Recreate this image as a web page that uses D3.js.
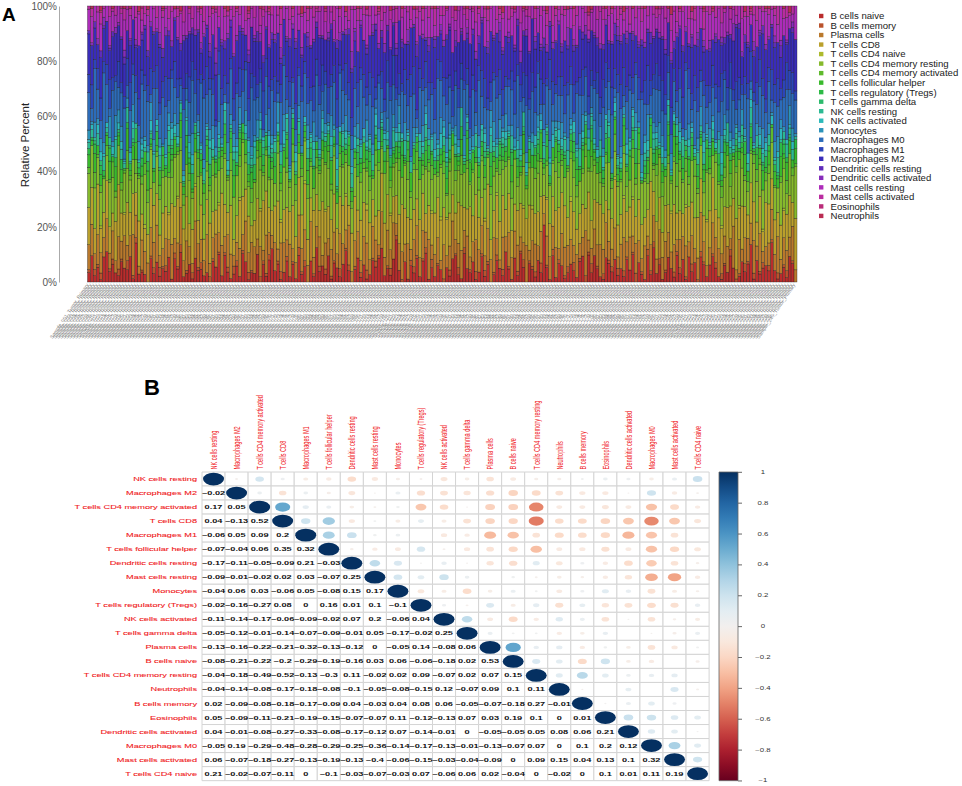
<!DOCTYPE html>
<html lang="en">
<head>
<meta charset="utf-8">
<title>Immune cell fractions and correlation matrix</title>
<script src="https://cdnjs.cloudflare.com/ajax/libs/d3/7.8.5/d3.min.js"></script>
<style>
  body { margin: 0; background: #fff; }
  svg { font-family: "Liberation Sans", Arial, sans-serif; }
</style>
</head>
<body>
<svg id="fig" width="962" height="786"></svg>
<script>
// ---------- panel A data: cell types (legend order) ----------
var cellTypes = ["B cells naive", "B cells memory", "Plasma cells", "T cells CD8", "T cells CD4 naive",
  "T cells CD4 memory resting", "T cells CD4 memory activated", "T cells follicular helper",
  "T cells regulatory (Tregs)", "T cells gamma delta", "NK cells resting", "NK cells activated",
  "Monocytes", "Macrophages M0", "Macrophages M1", "Macrophages M2", "Dendritic cells resting",
  "Dendritic cells activated", "Mast cells resting", "Mast cells activated", "Eosinophils", "Neutrophils"];

// per-sample percent estimates, one base-36 digit per sample (0-9, a=10 ... z=35), groups of 10
var bCellsNaive    = "3a2519c473 2864b1e352 0937264a18 5c23719462 3085d2a413 6297143b05 28f4613927 1a35082d46 3918527c40 4a2613859e 2537i40816 3829b15274 0628d31a53 7149260385 2c5183a607 4293p61825 6138427b09 3a52196483 5294c07318 2h36149527 381a470962 6952183c40 2847e19356 4d51362870";
var bCellsMemory   = "1021300120 2103012010 0120312002 1301020130 0210101203 2010310021 1200130201 0312001020 2011030120 1020301210 0130201002 2101203010 1020130201 0301210120 2010021301 1203010201 0120301021 3010201203 0210130102 1302010021 2010301210 0120210301 1031020120 2102013010";
var plasmaCells    = "8c5a97d6b4 a7e59c83f6 6b9d48a7c5 9f6a73e8b5 c58b9a6d74 7a5e8c96b3 d86a4b97c5 5c9a7f68b4 a69c5d87e3 8b5a96c74f 6d8b59a7c4 9a7c6e58b3 b58d7a96c4 7c9a5b8e63 a6d89c57b4 8b6a5c97d3 c97b6a58e4 5a8c9d67b5 9c6b7a85d4 7d5a8c96b3 a8c6b59e74 6b9a7d85c3 c5a98b6e47 8a7c5b96d4";
var tCellsCD8      = "ce8hb9fa7d gb9eac8hd6 9fdb7gcaeb hacf9bd8g7 bfa8dhc9e6 ahcbf79gde f9bdg8aech 8edfb9hcak cbag9efd7b e9hcbfa8dg bdf8cahe9b a9eg7cbfhd cfb9dhe8ag 9hdacf7bge dbfa9gce8h aceb8fd9gb fd9hcbae7g 9bgfd8ache becag9fdb8 hcdb9faeg7 a8fedbhc9g dgab9ecf8h bhc9fdae7g eaf8cbgd9h";
var tCD4Naive      = "0000100000 0010000001 0000000100 1000001000 0000100000 0100000010 0000010000 0001000000 1000000100 0000200000 0010000000 0000001001 0100000000 0000100010 0000000100 1000010000 0002000000 0000000010 0100100000 0000000100 0010000001 0000100000 1000000010 0000010000";
var tCD4MemRest    = "bgd9fcahe8 c9hbea7gfd af8dcgbe9h gd9bhacfe8 9cebf8hdag fbh9cadge7 cae8gbdf9h b9fdhc8aeg hdag9bfce7 9egcbd8hfa gcb9efahd8 daf8hcbe9g b9ehgdacf7 fcbda9ge8h 8hdcfbag9e cegb9dfah8 a9fhcebdg7 gdb8aefc9h cfa9hbdge8 9bgedcfah7 ebd9gfac8h d8hcaeg9bf gfa9bdhce8 bce8fg9dah";
var tCD4MemAct     = "2051304162 0316205143 4102530261 1540320617 3261042150 0413260351 2150430627 5031620413 1624051302 3042160531 0531240162 2604135021 4130526031 1052403615 3216041502 0451320164 2013650241 5204130362 1360425013 0241503126 4153062041 2031450612 0624135203 3510246031";
var tFollicular    = "4263514728 3517246153 6142573825 2736415263 5314627148 4625371452 1736245816 3452617324 6281435273 2547361452 4163528147 5372614253 3614725386 6253417242 1476352815 4538261473 2615374826 5346218153 3728456124 6152437285 2437615348 4516273615 3284516472 5163728435";
var tRegs          = "2130421503 1402315240 3215041321 0314252130 2501314026 1230425013 4125031204 0312541320 2403152031 1520342105 3041225130 0213451302 2530124031 1402315204 3215042130 0341253012 2103451240 4120350213 1302452031 2510314052 0421305123 3104251302 1250413024 2031542103";
var tGammaDelta    = "0010200100 1000010200 0200100010 0010003001 1000200010 0100010002 0020100100 1000020010 0010100200 0300010001 0001020100 1000100020 0200010100 0010200001 1001000200 0020010010 0100300100 1000020001 0010100020 0200001010 1000200100 0010010002 0300100010 0001020100";
var nkResting      = "2314052316 0425132041 3152403621 1405231524 2631405213 4102536142 1324051632 3501426013 2143605214 0352146302 4215031624 1063524130 3241506132 0524316241 2315042613 4130625031 1452036214 3206154023 2143560132 0531246103 3624015241 1305426312 2413605132 4025136241";
var nkActivated    = "1203412031 2310420132 0412301243 3021430120 1340213402 2103512031 0421304210 3102413025 1230421302 4013210431 2301432010 0132401325 3210430121 1042303210 2310142031 0423102413 3102410320 1230421031 2041310243 0321402130 4103221041 1320430312 2014310423 0312402130";
var monocytes      = "3152640827 4613250731 2740316524 5126370413 1453620735 3605142730 6241735012 2530617243 4172503615 3620714253 1534260712 5207341625 2641530714 4350216827 1724365031 3052617432 6143025713 2715304621 4360152738 1527430612 3046215734 5213670421 2630415372 4175320651";
var macrophagesM0  = "c5ha8pf3kb 7dm4g9b6rc e3ib8lc5f9 a6n4dhb2sk 9fc7mb3gd5 h4ae7pc9b2 d8kc3gf6ma 5bhe9c4nd7 f3ai6kd8b4 c7pb5ge3ha 6dl9c4fb8m b3hf7ae5qc 8ec4kd9gb3 g5ma7c3hf9 4bfd8oc6ea d9h3bgk5c7 a6ef3md8b5 7ck5fa9h3r e4bg6d8lc3 5hdb9fa7c4 c3ne5gb9d6 9af7ch4kb5 b6dl3e8fc9 f4ha7cm5db";
var macrophagesM1  = "6937a48b52 8459c36a74 5a6847b939 7385a69c46 9462b57838 4a7396855b 6859473a92 8364b5967a 5947a38c65 7a5869b437 4869573a98 9375a64b86 6b4978536a 5869a47389 8437b56a94 6a5893c745 7948a56b36 5386a94b78 9a6574839c 4795b86a53 7b3869a458 6859a47c39 8476b39a65 5a8947c683";
var macrophagesM2  = "dfa8ichbge bhe9gdakfc 9gdcjbfh8e fbich9dgae c8hfbeai9g gdb9fkcha8 aeicg8bfdj heb9dfgcia cgfai9ebhd 8dhcbfgjae fbg9eidach dich8bgfa9 agfdcj9ebh ec9hbfidga bgedai8fch hfc9gbdaie 9ebhcfgdai dgaibe8hcf fcheg9bida aibdfhcg8e egc9ibhfad c9fhadgbei hbdeacf9gi aegcbi8dfh";
var dcResting      = "1020310120 0130201031 2010140201 0301020120 1204013020 0210301402 1031020130 2010410201 0120301021 3010201203 0201302010 1400120301 0210301020 2031020104 1020130201 0301402010 2010210301 0130201042 1020301201 3010120130 0201403020 1020130201 2031020130 0120401020";
var dcActivated    = "0102030102 1030102010 0201403020 1020102031 0305010201 2010201030 0102040102 1030201010 0201030205 1020103020 3010201040 0102030102 2010501020 0301020103 1020104020 0201030201 1060201030 0102020104 2030101020 0102040301 1020103020 3010201050 0201030102 1030201020";
var mastResting    = "7a59c36b84 59d7a48c63 b6849e75a3 8c5a7396d4 6a8c5b973e 9475d86a3b 5b8a694c73 a6c75e849b 7948b6a53c 6d59a873b4 a7c4958e63 5896b7a4c3 8a6c5d793b 6b94a78c53 9c57b6a84d 47a9c865b3 b8695d7a43 6a7c948b53 8593a6c7d4 7b46a958c3 5c8a69b74e 9a6b5c8743 6d7a49b85c 8596c7a43b";
var mastActivated  = "1302510413 0251304162 2014031520 3160240135 0421503214 1305214062 2140360153 0312504120 4026130251 1503240316 2041603125 0325140613 3104520241 1620341052 2053106124 0413250631 3201640125 1052403216 2316041503 0432150624 1205340162 3041620513 0524136021 2136045130";
var eosinophils    = "0000100000 0100000010 0000010000 1000000100 0001000000 0000100001 0100000000 0000010100 1000000000 0010000010 0000100000 0100001000 0000000100 1000100000 0001000010 0000010000 0100000001 0000100000 1000000100 0001000000 0000010010 0100000000 0000100100 0010000000";
var neutrophils    = "0100200010 0010100200 1000010001 0200100010 0010001200 1000200010 0100010001 0030100000 1000010200 0100100010 0020001000 1001000100 0100200010 0010010001 2000100100 0100020010 0010100002 1000010100 0200100010 0010001300 1000200010 0100010100 0020100001 1000010200";

var seriesStrings = [bCellsNaive, bCellsMemory, plasmaCells, tCellsCD8, tCD4Naive, tCD4MemRest, tCD4MemAct,
  tFollicular, tRegs, tGammaDelta, nkResting, nkActivated, monocytes, macrophagesM0, macrophagesM1,
  macrophagesM2, dcResting, dcActivated, mastResting, mastActivated, eosinophils, neutrophils];

var percentTicks = [0, 0.2, 0.4, 0.6, 0.8, 1];

// ---------- panel B data ----------
var corrOrder = ["NK cells resting", "Macrophages M2", "T cells CD4 memory activated", "T cells CD8",
  "Macrophages M1", "T cells follicular helper", "Dendritic cells resting", "Mast cells resting", "Monocytes",
  "T cells regulatory (Tregs)", "NK cells activated", "T cells gamma delta", "Plasma cells", "B cells naive",
  "T cells CD4 memory resting", "Neutrophils", "B cells memory", "Eosinophils", "Dendritic cells activated",
  "Macrophages M0", "Mast cells activated", "T cells CD4 naive"];

// lower triangle, row by row (diagonal included)
var corrLower = [
  [1],
  [-0.02, 1],
  [0.17, 0.05, 1],
  [0.04, -0.13, 0.52, 1],
  [-0.06, 0.05, 0.09, 0.2, 1],
  [-0.07, -0.04, 0.06, 0.35, 0.32, 1],
  [-0.17, -0.11, -0.05, -0.09, 0.21, -0.03, 1],
  [-0.09, -0.01, -0.02, 0.02, 0.03, -0.07, 0.25, 1],
  [-0.04, 0.06, 0.03, -0.06, 0.05, -0.08, 0.15, 0.17, 1],
  [-0.02, -0.16, -0.27, 0.08, 0, 0.16, 0.01, 0.1, -0.1, 1],
  [-0.11, -0.14, -0.17, -0.06, -0.09, -0.02, 0.07, 0.2, -0.06, 0.04, 1],
  [-0.05, -0.12, -0.01, -0.14, -0.07, -0.09, -0.01, 0.05, -0.17, -0.02, 0.25, 1],
  [-0.13, -0.16, -0.22, -0.21, -0.32, -0.13, -0.12, 0, -0.05, 0.14, -0.08, 0.06, 1],
  [-0.08, -0.21, -0.22, -0.2, -0.29, -0.19, -0.16, 0.03, 0.06, -0.06, -0.18, 0.02, 0.53, 1],
  [-0.04, -0.18, -0.49, -0.52, -0.13, -0.3, 0.11, -0.02, 0.02, 0.09, -0.07, 0.02, 0.07, 0.15, 1],
  [-0.04, -0.14, -0.08, -0.17, -0.18, -0.08, -0.1, -0.05, -0.08, -0.15, 0.12, -0.07, 0.09, 0.1, 0.11, 1],
  [0.02, -0.09, -0.08, -0.18, -0.17, -0.09, 0.04, -0.03, 0.04, 0.08, 0.06, -0.05, -0.07, -0.18, 0.27, -0.01, 1],
  [0.05, -0.09, -0.11, -0.21, -0.19, -0.15, -0.07, -0.07, 0.11, -0.12, -0.13, 0.07, 0.03, 0.19, 0.1, 0, 0.01, 1],
  [0.04, -0.01, -0.08, -0.27, -0.33, -0.08, -0.17, -0.12, 0.07, -0.14, -0.01, 0, -0.05, -0.05, 0.05, 0.08, 0.06, 0.21, 1],
  [-0.05, 0.19, -0.29, -0.48, -0.28, -0.29, -0.25, -0.36, -0.14, -0.17, -0.13, -0.01, -0.13, -0.07, 0.07, 0, 0.1, 0.2, 0.12, 1],
  [0.06, -0.07, -0.18, -0.27, -0.13, -0.19, -0.13, -0.4, -0.06, -0.15, -0.03, -0.04, -0.09, 0, 0.09, 0.15, 0.04, 0.13, 0.1, 0.32, 1],
  [0.21, -0.02, -0.07, -0.11, 0, -0.1, -0.03, -0.07, -0.03, 0.07, -0.06, 0.06, 0.02, -0.04, 0, -0.02, 0, 0.1, 0.01, 0.11, 0.19, 1]
];

var colorbarTicks = [1, 0.8, 0.6, 0.4, 0.2, 0, -0.2, -0.4, -0.6, -0.8, -1];

// =====================================================
var svg = d3.select("#fig");

// ---------- Panel A: stacked fractions ----------
var seriesValues = seriesStrings.map(function(s) {
  return s.replace(/\s/g, "").split("").map(function(ch) { return parseInt(ch, 36); });
});
var nSamples = d3.max(seriesValues, function(v) { return v.length; });
var samples = d3.range(nSamples).map(function(i) {
  return "Sample_" + d3.format("03d")(i + 1) + "_Tumor_Primary";
});
var table = samples.map(function(s, i) {
  var row = {sample: s};
  cellTypes.forEach(function(c, k) { row[c] = seriesValues[k][i] || 0; });
  return row;
});

var layers = d3.stack().keys(cellTypes).offset(d3.stackOffsetExpand)(table);

var xA = d3.scaleBand().domain(samples).range([87.5, 797]).padding(0);
var yA = d3.scaleLinear().domain([0, 1]).range([282, 6]);
var colorA = d3.scaleOrdinal()
  .domain(cellTypes)
  .range(cellTypes.map(function(c, i) { return d3.hsl(i * 360 / 22, 0.62, 0.45).formatHex(); }));

var gA = svg.append("g").attr("class", "panelA");

gA.append("g").attr("class", "bars")
  .selectAll("g").data(layers).enter()
  .append("g").attr("fill", function(d) { return colorA(d.key); })
  .selectAll("rect").data(function(d) { return d; }).enter()
  .append("rect")
  .attr("x", function(d) { return xA(d.data.sample); })
  .attr("width", xA.bandwidth())
  .attr("y", function(d) { return yA(d[1]); })
  .attr("height", function(d) { return yA(d[0]) - yA(d[1]); })
  .attr("stroke", "#1c1c1c")
  .attr("stroke-width", 0.35);

var yAxisA = d3.axisLeft(yA).tickValues(percentTicks).tickFormat(d3.format(".0%"))
  .tickSize(0).tickSizeOuter(0).tickPadding(2);
var yg = gA.append("g").attr("transform", "translate(59,0)").call(yAxisA);
yg.select(".domain").attr("stroke", "#aaa");
yg.selectAll("text").attr("fill", "#555").attr("font-size", 10)
  .attr("font-family", "'Liberation Sans', Arial, sans-serif");

// sample names under the bars
gA.append("g").attr("class", "x-labels")
  .selectAll("text").data(samples).enter()
  .append("text")
  .attr("transform", function(d) { return "translate(" + (xA(d) + xA.bandwidth() / 2) + ",285) rotate(-56)"; })
  .attr("text-anchor", "end")
  .attr("font-size", 5)
  .attr("fill", "#7a7a7a")
  .text(function(d) { return d; });

gA.append("text")
  .attr("transform", "translate(29,145) rotate(-90)")
  .attr("text-anchor", "middle")
  .attr("font-size", 11.5).attr("fill", "#222")
  .text("Relative Percent");

gA.append("text").attr("x", 2).attr("y", 21)
  .attr("font-size", 19).attr("font-weight", "bold").text("A");

var legA = gA.append("g").attr("class", "legend")
  .selectAll("g").data(cellTypes).enter()
  .append("g").attr("transform", function(d, i) { return "translate(819," + (16 + i * 9.52) + ")"; });
legA.append("rect").attr("x", 0).attr("y", -2.2).attr("width", 4.4).attr("height", 4.4)
  .attr("fill", function(d) { return colorA(d); });
legA.append("text").attr("x", 11.5).attr("dy", "0.35em")
  .attr("font-size", 9.6).attr("fill", "#222").text(function(d) { return d; });

// ---------- Panel B: correlation matrix ----------
var nC = corrOrder.length;
var cw = 23.05;
var sy = 14.03 / cw;
var side = nC * cw;
var corrAt = function(i, j) { return i >= j ? corrLower[i][j] : corrLower[j][i]; };

var cells = [];
corrOrder.forEach(function(rn, i) {
  corrOrder.forEach(function(cn, j) { cells.push({row: rn, col: cn, i: i, j: j, r: corrAt(i, j)}); });
});

var xB = d3.scaleBand().domain(corrOrder).range([0, side]);
var yB = d3.scaleBand().domain(corrOrder).range([0, side]);
var colorB = function(r) { return d3.interpolateRdBu((r + 1) / 2); };
var sizeB = d3.scaleSqrt().domain([0, 1]).range([0, cw * 0.455]);
var fmtB = function(v) {
  var s = String(+v.toFixed(2));
  return v < 0 ? "\u2212" + s.slice(1) : s;
};

var gB = svg.append("g").attr("class", "panelB")
  .attr("transform", "translate(202,472) scale(1," + sy + ")");

gB.append("g").selectAll("rect").data(cells).enter()
  .append("rect")
  .attr("x", function(d) { return xB(d.col); })
  .attr("y", function(d) { return yB(d.row); })
  .attr("width", xB.bandwidth()).attr("height", yB.bandwidth())
  .attr("fill", "#fff").attr("stroke", "#d4d4d4").attr("stroke-width", 1)
  .attr("vector-effect", "non-scaling-stroke");

gB.append("g").selectAll("circle").data(cells.filter(function(d) { return d.j >= d.i; })).enter()
  .append("circle")
  .attr("cx", function(d) { return xB(d.col) + xB.bandwidth() / 2; })
  .attr("cy", function(d) { return yB(d.row) + yB.bandwidth() / 2; })
  .attr("r", function(d) { return sizeB(Math.abs(d.r)); })
  .attr("fill", function(d) { return colorB(d.r); });

gB.append("g").selectAll("text").data(cells.filter(function(d) { return d.j < d.i; })).enter()
  .append("text")
  .attr("x", function(d) { return xB(d.col) + xB.bandwidth() / 2; })
  .attr("y", function(d) { return yB(d.row) + yB.bandwidth() / 2; })
  .attr("dy", "0.36em")
  .attr("text-anchor", "middle")
  .attr("font-size", 9.2).attr("font-weight", "bold").attr("fill", "#111")
  .text(function(d) { return fmtB(d.r); });

gB.append("g").selectAll("text").data(corrOrder).enter()
  .append("text")
  .attr("x", -5)
  .attr("y", function(d) { return yB(d) + yB.bandwidth() / 2; })
  .attr("dy", "0.36em").attr("text-anchor", "end")
  .attr("font-size", 9.2).attr("fill", "#f0201c")
  .attr("stroke", "#f0201c").attr("stroke-width", 0.15)
  .text(function(d) { return d; });

gB.append("g").selectAll("text").data(corrOrder).enter()
  .append("text")
  .attr("transform", function(d) { return "translate(" + (xB(d) + xB.bandwidth() / 2) + ",-4) rotate(-90)"; })
  .attr("dy", "0.36em").attr("text-anchor", "start")
  .attr("font-size", 9.2).attr("fill", "#f0201c")
  .text(function(d) { return d; });

// colour legend
var cbScale = d3.scaleLinear().domain([1, -1]).range([0, side]);
var grad = svg.append("defs").append("linearGradient").attr("id", "rdbu")
  .attr("x1", 0).attr("y1", 1).attr("x2", 0).attr("y2", 0);
grad.selectAll("stop").data(d3.range(0, 1.0001, 0.05)).enter()
  .append("stop")
  .attr("offset", function(t) { return t; })
  .attr("stop-color", function(t) { return d3.interpolateRdBu(t); });

var cbX = 517, cbW = 19;
gB.append("rect").attr("x", cbX).attr("y", 0).attr("width", cbW).attr("height", side)
  .attr("fill", "url(#rdbu)").attr("stroke", "#666").attr("stroke-width", 0.8)
  .attr("vector-effect", "non-scaling-stroke");
var cbAxis = d3.axisRight(cbScale).tickValues(colorbarTicks).tickSize(4).tickSizeOuter(0)
  .tickPadding(14).tickFormat(function(d) { return d < 0 ? "\u2212" + Math.abs(d) : String(d); });
var cbg = gB.append("g").attr("transform", "translate(" + (cbX + cbW) + ",0)").call(cbAxis);
cbg.select(".domain").remove();
cbg.selectAll("line").attr("stroke", "#666").attr("vector-effect", "non-scaling-stroke");
cbg.selectAll("text").attr("font-size", 7.8).attr("fill", "#333").attr("text-anchor", "middle")
  .attr("x", 25).attr("font-family", "'Liberation Sans', Arial, sans-serif");

svg.append("text").attr("x", 144).attr("y", 395)
  .attr("font-size", 22).attr("font-weight", "bold").text("B");
</script>
</body>
</html>
